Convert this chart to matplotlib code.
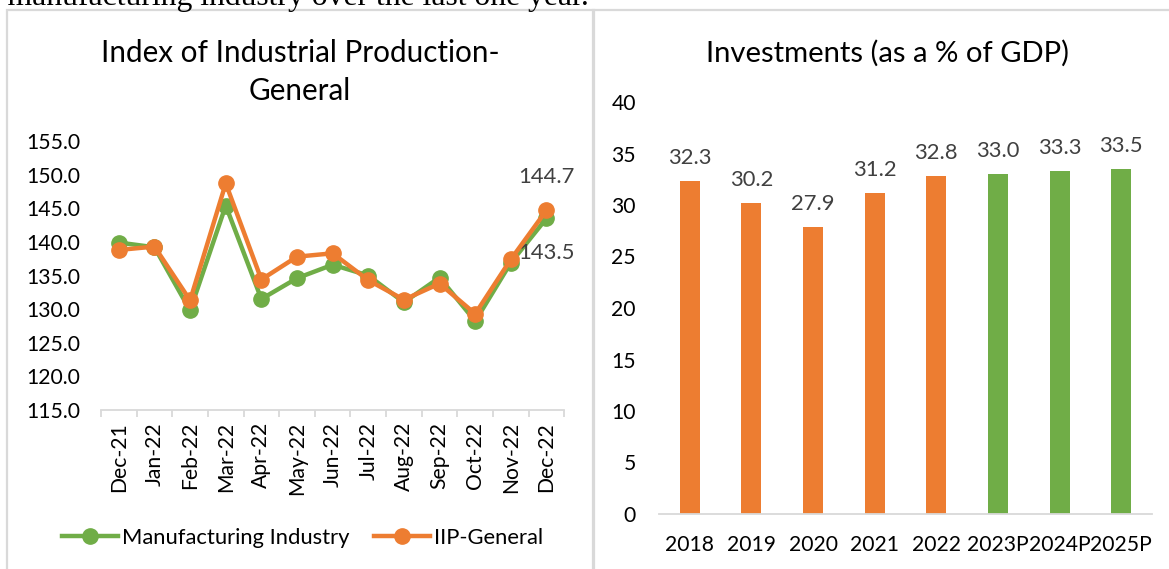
import matplotlib
matplotlib.use('Agg')
import matplotlib.pyplot as plt
import numpy as np
from matplotlib.textpath import TextPath
from matplotlib.font_manager import FontProperties
from matplotlib.patches import Rectangle
from matplotlib.ticker import FormatStrFormatter

# ---------------- data ----------------
months = ['Dec-21', 'Jan-22', 'Feb-22', 'Mar-22', 'Apr-22', 'May-22', 'Jun-22',
          'Jul-22', 'Aug-22', 'Sep-22', 'Oct-22', 'Nov-22', 'Dec-22']
manufacturing = [139.9, 139.2, 129.8, 145.4, 131.5, 134.6, 136.6,
                 135.0, 131.0, 134.7, 128.2, 136.9, 143.5]
iip_general = [138.8, 139.3, 131.3, 148.7, 134.4, 137.8, 138.3,
               134.3, 131.4, 133.8, 129.3, 137.4, 144.7]

years = ['2018', '2019', '2020', '2021', '2022', '2023P', '2024P', '2025P']
investment = [32.3, 30.2, 27.9, 31.2, 32.8, 33.0, 33.3, 33.5]

left_title = ['Index of Industrial Production-', 'General']
right_title = 'Investments (as a % of GDP)'
top_text = 'to manufacturing industry over the last one year.'

# ---------------- style ----------------
W, H, DPI = 1169, 569, 100
GREEN = '#70AD47'
ORANGE = '#ED7D31'
AXIS = '#D9D9D9'
LABEL = '#404040'
FAM = 'Lato'

plt.rcParams['font.family'] = [FAM, 'DejaVu Sans']


def fit(text, px, family=FAM):
    w = TextPath((0, 0), text, size=100,
                 prop=FontProperties(family=family)).get_extents().width
    return px * 72 / DPI / (w / 100)


def box(x0, y0, x1, y1):
    return [x0 / W, 1 - y1 / H, (x1 - x0) / W, (y1 - y0) / H]


def pt(px):
    return px * 72 / DPI


tick_fs = fit('2018', 47)
legend_fs = fit('IIP-General', 106)
label_fs = fit('33.0', 42)
title_fs_l = fit(left_title[0], 393)
title_fs_r = fit(right_title, 360)
serif_fs = fit('manufacturing industry over the last one year.', 577,
               'Liberation Serif')

fig = plt.figure(figsize=(W / DPI, H / DPI), dpi=DPI)
fig.patch.set_facecolor('white')

# panel frames
fig.add_artist(Rectangle((7 / W, -0.1), (594 - 7) / W, 1.1 - 10 / H,
                         transform=fig.transFigure, fill=False,
                         edgecolor=AXIS, linewidth=1.6))
fig.add_artist(Rectangle((593 / W, -0.1), 0.5, 1.1 - 10 / H,
                         transform=fig.transFigure, fill=False,
                         edgecolor=AXIS, linewidth=1.6))

# top cut-off document text
fig.text(589 / W, 1 - 5 / H, top_text, ha='right', va='baseline',
         family='Liberation Serif', fontsize=serif_fs, color='black')

# ---------------- left: line chart ----------------
ax1 = fig.add_axes(box(101, 141, 564.3, 410))
x = np.arange(len(months))
l1, = ax1.plot(x, manufacturing, color=GREEN, lw=3.2, marker='o', ms=11,
               mec=GREEN, mfc=GREEN, label='Manufacturing Industry',
               zorder=3, clip_on=False)
l2, = ax1.plot(x, iip_general, color=ORANGE, lw=3.2, marker='o', ms=11,
               mec=ORANGE, mfc=ORANGE, label='IIP-General',
               zorder=4, clip_on=False)
ax1.set_xlim(-0.5, len(months) - 0.5)
ax1.set_ylim(115, 155)
ax1.set_yticks(np.arange(115, 156, 5))
ax1.yaxis.set_major_formatter(FormatStrFormatter('%.1f'))
ax1.set_xticks(np.arange(-0.5, len(months)))
ax1.set_xticks(x, minor=True)
ax1.set_xticklabels(months, minor=True, rotation=90)
ax1.tick_params(axis='x', which='major', length=5, color=AXIS, width=1.3,
                labelbottom=False)
ax1.tick_params(axis='x', which='minor', length=0, pad=pt(12),
                labelsize=tick_fs)
ax1.tick_params(axis='y', length=0, pad=pt(21), labelsize=tick_fs)
for s in ['top', 'right', 'left']:
    ax1.spines[s].set_visible(False)
ax1.spines['bottom'].set_color(AXIS)
ax1.spines['bottom'].set_linewidth(1.3)
ax1.annotate(f'{iip_general[-1]:.1f}', (x[-1], iip_general[-1]),
             xytext=(0, pt(33)), textcoords='offset points', ha='center',
             va='center', color=LABEL, fontsize=label_fs)
ax1.annotate(f'{manufacturing[-1]:.1f}', (x[-1], manufacturing[-1]),
             xytext=(0, -pt(35)), textcoords='offset points', ha='center',
             va='center', color=LABEL, fontsize=label_fs)

fig.text(300 / W, 1 - 62 / H, left_title[0], ha='center', va='baseline',
         fontsize=title_fs_l, color='black')
fig.text(300 / W, 1 - 100 / H, left_title[1], ha='center', va='baseline',
         fontsize=title_fs_l, color='black')

lpx = legend_fs * DPI / 72
fig.legend(handles=[l1, l2], loc='center',
           bbox_to_anchor=(302.5 / W, 1 - 538 / H), ncol=2, frameon=False,
           fontsize=legend_fs, handlelength=56 / lpx, handletextpad=4 / lpx,
           columnspacing=25 / lpx, borderpad=0, borderaxespad=0,
           numpoints=1)

# ---------------- right: bar chart ----------------
ax2 = fig.add_axes(box(659, 102, 1152, 514))
xb = np.arange(len(years))
colors = [GREEN if y.endswith('P') else ORANGE for y in years]
ax2.bar(xb, investment, width=0.325, color=colors, zorder=2)
ax2.set_xlim(-0.5, len(years) - 0.5)
ax2.set_ylim(0, 40)
ax2.set_yticks(np.arange(0, 41, 5))
ax2.set_xticks(xb)
ax2.set_xticklabels(years)
ax2.tick_params(axis='x', length=0, pad=pt(21), labelsize=tick_fs)
ax2.tick_params(axis='y', length=0, pad=pt(23), labelsize=tick_fs)
for s in ['top', 'right', 'left']:
    ax2.spines[s].set_visible(False)
ax2.spines['bottom'].set_color(AXIS)
ax2.spines['bottom'].set_linewidth(1.3)
ax2.spines['bottom'].set_zorder(3)
for i, v in enumerate(investment):
    ax2.annotate(f'{v:.1f}', (i, v), xytext=(0, pt(17)),
                 textcoords='offset points', ha='center', va='baseline',
                 color=LABEL, fontsize=label_fs)

fig.text(888 / W, 1 - 62 / H, right_title, ha='center', va='baseline',
         fontsize=title_fs_r, color='black')

fig.savefig('out.png', dpi=DPI, facecolor='white')
